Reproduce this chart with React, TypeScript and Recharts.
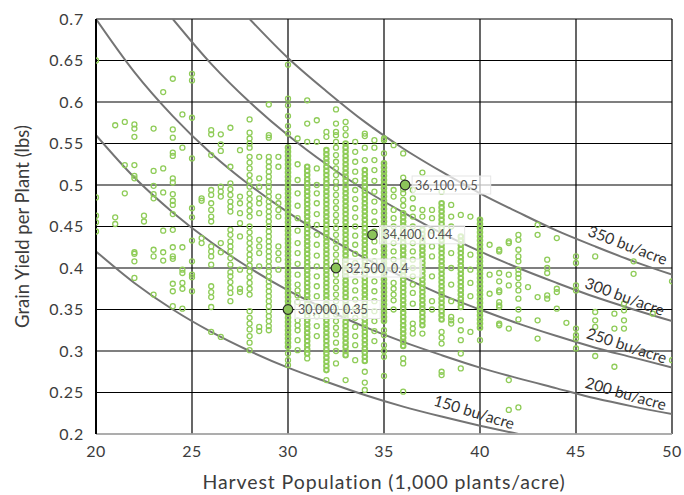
import { ComposedChart, Scatter, Line, XAxis, YAxis, CartesianGrid, ReferenceDot, Label } from 'recharts'

// harvest population (1,000 plants/acre) of each column of scattered observations
const populations = [
  20, 21, 21.5, 22, 22.5, 23, 23.5, 24, 24.5, 25, 25.5, 26, 26.5, 27, 27.5, 28, 28.5, 29, 29.5,
  30, 30.5, 31, 31.5, 32, 32.5, 33, 33.5, 34, 34.5, 35, 35.5, 36, 36.5, 37, 37.5, 38, 38.5, 39, 39.5,
  40, 40.5, 41, 41.5, 42, 42.5, 43, 43.5, 44, 44.5, 45, 46, 47, 47.5, 48, 49, 50,
]

// grain yield per plant (lbs) read for each population above
const plantYields = [
  [0.65, 0.485, 0.463, 0.455, 0.444],
  [0.572, 0.461, 0.453],
  [0.576, 0.524, 0.49],
  [0.573, 0.568, 0.558, 0.524, 0.511, 0.508, 0.419, 0.417, 0.408, 0.388],
  [0.463, 0.456],
  [0.568, 0.517, 0.499, 0.489, 0.484, 0.422, 0.414, 0.368],
  [0.612, 0.52, 0.491, 0.445, 0.419, 0.409],
  [0.628, 0.567, 0.557, 0.539, 0.535, 0.508, 0.503, 0.489, 0.481, 0.476, 0.465, 0.446, 0.425, 0.414, 0.411, 0.381, 0.372, 0.354],
  [0.585, 0.545, 0.425, 0.398, 0.394, 0.382, 0.375, 0.351],
  [0.634, 0.626, 0.581, 0.532, 0.472, 0.461, 0.433, 0.408, 0.392, 0.389, 0.372],
  [0.484, 0.481, 0.436, 0.43],
  [0.566, 0.561, 0.536, 0.494, 0.488, 0.478, 0.47, 0.462, 0.456, 0.426, 0.42, 0.414, 0.404, 0.378, 0.371, 0.365, 0.353, 0.323],
  [0.561, 0.549, 0.541, 0.498, 0.492, 0.486, 0.43, 0.419, 0.317],
  [0.569, 0.522, 0.502, 0.495, 0.488, 0.48, 0.474, 0.468, 0.446, 0.44, 0.432, 0.426, 0.42, 0.412, 0.404, 0.395, 0.39, 0.383, 0.376, 0.37, 0.36],
  [0.542, 0.486, 0.478, 0.466, 0.454, 0.438, 0.398, 0.375, 0.371],
  [0.579, 0.563, 0.556, 0.55, 0.545, 0.534, 0.527, 0.52, 0.512, 0.505, 0.498, 0.49, 0.483, 0.476, 0.469, 0.462, 0.45, 0.443, 0.436, 0.43, 0.423, 0.416, 0.41, 0.403, 0.396, 0.389, 0.382, 0.375, 0.368, 0.348, 0.34, 0.333, 0.326, 0.318, 0.31, 0.301],
  [0.534, 0.508, 0.498, 0.484, 0.478, 0.466, 0.434, 0.426, 0.418, 0.402, 0.329, 0.324],
  [0.597, 0.56, 0.557, 0.534, 0.528, 0.522, 0.516, 0.51, 0.504, 0.498, 0.492, 0.486, 0.48, 0.474, 0.468, 0.462, 0.456, 0.45, 0.444, 0.438, 0.432, 0.426, 0.42, 0.414, 0.408, 0.402, 0.396, 0.39, 0.384, 0.378, 0.372, 0.366, 0.36, 0.354, 0.348, 0.342, 0.336, 0.33, 0.325],
  [0.534, 0.522, 0.486, 0.478, 0.47, 0.462, 0.426, 0.418, 0.41, 0.398],
  [0.645, 0.604, 0.596, 0.583, 0.571, 0.562, 0.297, 0.289, 0.283],
  [0.556, 0.525, 0.506, 0.49, 0.475, 0.46, 0.445, 0.43, 0.418, 0.405, 0.392, 0.38, 0.373, 0.367, 0.359, 0.337, 0.331, 0.325, 0.313, 0.301],
  [0.602, 0.574, 0.552, 0.291],
  [0.578, 0.552, 0.52, 0.5, 0.49, 0.478, 0.465, 0.452, 0.44, 0.428, 0.415, 0.402, 0.39, 0.378, 0.366, 0.354, 0.342, 0.33, 0.318],
  [0.564, 0.558, 0.265],
  [0.591, 0.574, 0.564, 0.56, 0.552, 0.545, 0.536, 0.528, 0.52, 0.512, 0.504, 0.496, 0.488, 0.48, 0.472, 0.464, 0.456, 0.448, 0.44, 0.432, 0.424, 0.416, 0.408, 0.392, 0.384, 0.376, 0.368, 0.36, 0.352, 0.344, 0.336, 0.328, 0.32, 0.31, 0.3, 0.285],
  [0.576, 0.568, 0.56, 0.265],
  [0.552, 0.54, 0.528, 0.516, 0.505, 0.494, 0.483, 0.472, 0.461, 0.45, 0.439, 0.428, 0.417, 0.406, 0.395, 0.384, 0.373, 0.362, 0.351, 0.34, 0.329, 0.318, 0.307, 0.289],
  [0.562, 0.559, 0.545, 0.53, 0.275, 0.262, 0.253],
  [0.554, 0.545, 0.53, 0.518, 0.505, 0.492, 0.48, 0.468, 0.456, 0.444, 0.432, 0.42, 0.408, 0.396, 0.384, 0.372, 0.36, 0.348, 0.336, 0.324, 0.312],
  [0.556, 0.554, 0.538, 0.325, 0.319, 0.307, 0.3, 0.293, 0.27],
  [0.548, 0.494, 0.486, 0.47, 0.46, 0.45, 0.44, 0.43, 0.42, 0.41, 0.4, 0.382, 0.375, 0.368, 0.361, 0.35],
  [0.538, 0.509, 0.495, 0.49, 0.482, 0.475, 0.291, 0.285, 0.251],
  [0.494, 0.484, 0.472, 0.462, 0.45, 0.44, 0.43, 0.42, 0.41, 0.4, 0.39, 0.38, 0.37, 0.357, 0.333, 0.327, 0.321],
  [0.515, 0.47, 0.462, 0.321],
  [0.47, 0.46, 0.445, 0.426, 0.414, 0.39, 0.36, 0.35],
  [0.492, 0.323, 0.316, 0.309, 0.275, 0.271],
  [0.476, 0.462, 0.45, 0.418, 0.4, 0.38, 0.36, 0.341, 0.337, 0.333],
  [0.464, 0.337, 0.325, 0.313, 0.297, 0.279],
  [0.462, 0.416, 0.398, 0.382, 0.366, 0.323],
  [0.313],
  [0.428, 0.392, 0.369],
  [0.422, 0.42, 0.394, 0.384, 0.373, 0.371, 0.359, 0.355, 0.353, 0.333, 0.331],
  [0.432, 0.43, 0.392, 0.379, 0.327, 0.265, 0.229],
  [0.44, 0.434, 0.422, 0.414, 0.408, 0.398, 0.393, 0.388, 0.38, 0.373, 0.363, 0.35, 0.338, 0.232],
  [0.377],
  [0.452, 0.44, 0.365, 0.337, 0.315],
  [0.41, 0.4, 0.394, 0.367, 0.363],
  [0.436, 0.375, 0.371, 0.351],
  [0.334],
  [0.414, 0.406, 0.379, 0.373, 0.327, 0.319, 0.315, 0.303],
  [0.414, 0.347, 0.337, 0.329, 0.294],
  [0.345, 0.327, 0.281],
  [0.357, 0.349, 0.337, 0.327],
  [0.408, 0.393],
  [0.345],
  [0.384, 0.289],
]

// the tightly packed stripes at whole-thousand populations
const densePops = [30, 31, 32, 33, 34, 35, 36, 37, 38, 39, 40]
const denseYields = [
  [0.545, 0.54, 0.535, 0.53, 0.525, 0.52, 0.515, 0.51, 0.505, 0.5, 0.495, 0.49, 0.485, 0.48, 0.475, 0.47, 0.465, 0.46, 0.455, 0.45, 0.445, 0.44, 0.435, 0.43, 0.425, 0.42, 0.415, 0.41, 0.405, 0.4, 0.395, 0.39, 0.385, 0.38, 0.375, 0.37, 0.365, 0.36, 0.355, 0.35, 0.345, 0.34, 0.335, 0.33, 0.325, 0.32, 0.315, 0.31, 0.305],
  [0.522, 0.517, 0.512, 0.507, 0.502, 0.497, 0.492, 0.487, 0.482, 0.477, 0.472, 0.467, 0.462, 0.457, 0.452, 0.447, 0.442, 0.437, 0.432, 0.427, 0.422, 0.417, 0.412, 0.407, 0.402, 0.397, 0.392, 0.387, 0.382, 0.377, 0.372, 0.367, 0.362, 0.357, 0.352, 0.347, 0.342, 0.337, 0.332, 0.327, 0.322, 0.317, 0.312, 0.307, 0.302, 0.297],
  [0.542, 0.537, 0.532, 0.527, 0.522, 0.517, 0.512, 0.507, 0.502, 0.497, 0.492, 0.487, 0.482, 0.477, 0.472, 0.467, 0.462, 0.457, 0.452, 0.447, 0.442, 0.437, 0.432, 0.427, 0.422, 0.417, 0.412, 0.407, 0.402, 0.397, 0.392, 0.387, 0.382, 0.377, 0.372, 0.367, 0.362, 0.357, 0.352, 0.347, 0.342, 0.337, 0.332, 0.327, 0.322, 0.317, 0.312, 0.307, 0.302, 0.297, 0.292, 0.287, 0.282, 0.277],
  [0.55, 0.545, 0.54, 0.535, 0.53, 0.525, 0.52, 0.515, 0.51, 0.505, 0.5, 0.495, 0.49, 0.485, 0.48, 0.475, 0.47, 0.465, 0.46, 0.455, 0.45, 0.445, 0.44, 0.435, 0.43, 0.425, 0.42, 0.415, 0.41, 0.405, 0.4, 0.395, 0.39, 0.385, 0.38, 0.375, 0.37, 0.365, 0.36, 0.355, 0.35, 0.345, 0.34, 0.335, 0.33, 0.325, 0.32, 0.315, 0.31, 0.305, 0.3, 0.295],
  [0.518, 0.513, 0.508, 0.503, 0.498, 0.493, 0.488, 0.483, 0.478, 0.473, 0.468, 0.463, 0.458, 0.453, 0.448, 0.443, 0.438, 0.433, 0.428, 0.423, 0.418, 0.413, 0.408, 0.403, 0.398, 0.393, 0.388, 0.383, 0.378, 0.373, 0.368, 0.363, 0.358, 0.353, 0.348, 0.343, 0.338, 0.333, 0.328, 0.323, 0.318, 0.313, 0.308, 0.303, 0.298, 0.293, 0.288],
  [0.526, 0.521, 0.516, 0.511, 0.506, 0.501, 0.496, 0.491, 0.486, 0.481, 0.476, 0.471, 0.466, 0.461, 0.456, 0.451, 0.446, 0.441, 0.436, 0.431, 0.426, 0.421, 0.416, 0.411, 0.406, 0.401, 0.396, 0.391, 0.386, 0.381, 0.376, 0.371, 0.366, 0.361, 0.356, 0.351, 0.346, 0.341, 0.336],
  [0.466, 0.461, 0.456, 0.451, 0.446, 0.441, 0.436, 0.431, 0.426, 0.421, 0.416, 0.411, 0.406, 0.401, 0.396, 0.391, 0.386, 0.381, 0.376, 0.371, 0.366, 0.361, 0.356, 0.351, 0.346, 0.341, 0.336, 0.331, 0.326, 0.321, 0.316, 0.311, 0.306],
  [0.446, 0.441, 0.436, 0.431, 0.426, 0.421, 0.416, 0.411, 0.406, 0.401, 0.396, 0.391, 0.386, 0.381, 0.376, 0.371, 0.366, 0.361, 0.356, 0.351, 0.346, 0.341, 0.336, 0.331],
  [0.478, 0.473, 0.468, 0.463, 0.458, 0.453, 0.448, 0.443, 0.438, 0.433, 0.428, 0.423, 0.418, 0.413, 0.408, 0.403, 0.398, 0.393, 0.388, 0.383, 0.378, 0.373, 0.368, 0.363, 0.358, 0.353, 0.348, 0.343, 0.338],
  [0.438, 0.433, 0.428, 0.423, 0.418, 0.413, 0.408, 0.403, 0.398, 0.393, 0.388, 0.383, 0.378, 0.373, 0.368, 0.363, 0.358, 0.353],
  [0.458, 0.453, 0.448, 0.443, 0.438, 0.433, 0.428, 0.423, 0.418, 0.413, 0.408, 0.403, 0.398, 0.393, 0.388, 0.383, 0.378, 0.373, 0.368, 0.363, 0.358, 0.353, 0.348, 0.343, 0.338, 0.333, 0.328],
]

// highlighted example plants
const highlightPops = [30, 32.5, 34.4, 36.1]
const highlightYields = [0.35, 0.4, 0.44, 0.5]
const highlightLabels = ['30,000, 0.35', '32,500, 0.4', '34,400, 0.44', '36,100, 0.5']

// iso-yield curves (bu/acre), lbs per plant at each population
const yieldLevels = [150, 200, 250, 300, 350]
const curvePops = [20, 22, 24, 26, 28, 30, 32, 34, 36, 38, 40, 42, 44, 46, 48, 50]
const curve150 = [0.42, 0.382, 0.35, 0.323, 0.3, 0.28, 0.263, 0.247, 0.233, 0.221, 0.21, 0.2, null, null, null, null]
const curve200 = [0.56, 0.509, 0.467, 0.431, 0.4, 0.373, 0.35, 0.329, 0.311, 0.295, 0.28, 0.267, 0.255, 0.243, 0.233, 0.224]
const curve250 = [0.7, 0.636, 0.583, 0.538, 0.5, 0.467, 0.438, 0.412, 0.389, 0.368, 0.35, 0.333, 0.318, 0.304, 0.292, 0.28]
const curve300 = [null, null, 0.7, 0.646, 0.6, 0.56, 0.525, 0.494, 0.467, 0.442, 0.42, 0.4, 0.382, 0.365, 0.35, 0.336]
const curve350 = [null, null, null, null, 0.7, 0.653, 0.613, 0.576, 0.544, 0.516, 0.49, 0.467, 0.445, 0.426, 0.408, 0.392]

const xTicks = [20, 25, 30, 35, 40, 45, 50]
const yTicks = [0.2, 0.25, 0.3, 0.35, 0.4, 0.45, 0.5, 0.55, 0.6, 0.65, 0.7]

const FONT = 'Lato, "Noto Sans", sans-serif'
const GREEN = '#8fcc58'

const points = populations.flatMap((p, i) => plantYields[i].map((y) => ({ x: p, y })))
const densePoints = densePops.flatMap((p, i) => denseYields[i].map((y) => ({ x: p, y })))
const highlights = highlightPops.map((p, i) => ({ x: p, y: highlightYields[i], label: highlightLabels[i] }))
const curves = [curve150, curve200, curve250, curve300, curve350].map((c, k) => ({
  level: yieldLevels[k],
  data: curvePops.map((p, j) => ({ x: p, y: c[j] })).filter((d) => d.y !== null),
}))

// where each curve's label sits and how much it is tilted
const curveLabelSpots = [
  { x: 39.7, y: 0.227, angle: 17 },
  { x: 47.6, y: 0.249, angle: 16 },
  { x: 47.65, y: 0.307, angle: 18 },
  { x: 47.55, y: 0.366, angle: 20 },
  { x: 47.7, y: 0.428, angle: 21 },
]

const Ring = (props: any) => (
  <circle cx={props.cx} cy={props.cy} r={2.5} fill="none" stroke={GREEN} strokeWidth={1.3} />
)

const DenseRing = (props: any) => (
  <circle cx={props.cx} cy={props.cy} r={2.3} fill="none" stroke={GREEN} strokeWidth={2} />
)

const HighlightDot = (props: any) => {
  const { cx, cy, payload } = props
  const w = payload.label.length * 6.6 + 6
  return (
    <g>
      <rect x={cx + 7} y={cy - 9} width={w} height={18} fill="#fff" fillOpacity={0.7} stroke="#e6e6e6" strokeWidth={1} />
      <circle cx={cx} cy={cy} r={4.8} fill="#8cc45a" stroke="#2a2a2a" strokeWidth={1.2} />
      <text x={cx + 10} y={cy} dominantBaseline="central" fontSize={12.5} fill="#555" fontFamily={FONT}>
        {payload.label}
      </text>
    </g>
  )
}

export default function App() {
  return (
    <div style={{ position: 'absolute', left: 0, top: 0, background: '#fff' }}>
      <ComposedChart width={684} height={495} margin={{ top: 19, right: 12, bottom: 0, left: 0 }}>
        <CartesianGrid stroke="#000" strokeWidth={1.2} />
        <XAxis
          type="number"
          dataKey="x"
          domain={[20, 50]}
          ticks={xTicks}
          allowDataOverflow
          height={61}
          tickLine={false}
          tickSize={10}
          tickMargin={2}
          axisLine={{ stroke: '#bdbdbd', strokeWidth: 1.5 }}
          tick={{ fill: '#3c3c3c', fontSize: 16, fontFamily: FONT, letterSpacing: 0.5 }}
        >
          <Label
            content={({ viewBox }: any) => (
              <text x={viewBox.x + viewBox.width / 2} y={481} textAnchor="middle" dominantBaseline="central" fontSize={19.5} letterSpacing={0.9} fill="#3c3c3c" fontFamily={FONT}>
                Harvest Population (1,000 plants/acre)
              </text>
            )}
          />
        </XAxis>
        <YAxis
          type="number"
          dataKey="y"
          domain={[0.2, 0.7]}
          ticks={yTicks}
          allowDataOverflow
          width={96}
          tickLine={false}
          tickSize={10}
          tickMargin={2}
          axisLine={{ stroke: '#000', strokeWidth: 2 }}
          tick={{ fill: '#3c3c3c', fontSize: 16, fontFamily: FONT, letterSpacing: 0.8 }}
        >
          <Label
            content={({ viewBox }: any) => (
              <text
                transform={`translate(22, ${viewBox.y + viewBox.height / 2}) rotate(-90)`}
                textAnchor="middle"
                dominantBaseline="central"
                fontSize={18.5}
                fill="#3c3c3c"
                fontFamily={FONT}
              >
                Grain Yield per Plant (lbs)
              </text>
            )}
          />
        </YAxis>
        <Scatter data={points} shape={Ring} isAnimationActive={false} />
        <Scatter data={densePoints} shape={DenseRing} isAnimationActive={false} />
        {curves.map((c) => (
          <Line
            key={c.level}
            data={c.data}
            dataKey="y"
            type="monotone"
            stroke="#747474"
            strokeWidth={2}
            dot={false}
            activeDot={false}
            isAnimationActive={false}
          />
        ))}
        {curves.map((c, k) => (
          <ReferenceDot
            key={'lab' + c.level}
            x={curveLabelSpots[k].x}
            y={curveLabelSpots[k].y}
            r={0}
            shape={(p: any) => (
              <text
                transform={`translate(${p.cx}, ${p.cy}) rotate(${curveLabelSpots[k].angle})`}
                textAnchor="middle"
                dominantBaseline="central"
                fontSize={15.5}
                fill="#333"
                fontFamily={FONT}
              >
                {c.level} bu/acre
              </text>
            )}
          />
        ))}
        <Scatter data={highlights} shape={HighlightDot} isAnimationActive={false} />
      </ComposedChart>
    </div>
  )
}
